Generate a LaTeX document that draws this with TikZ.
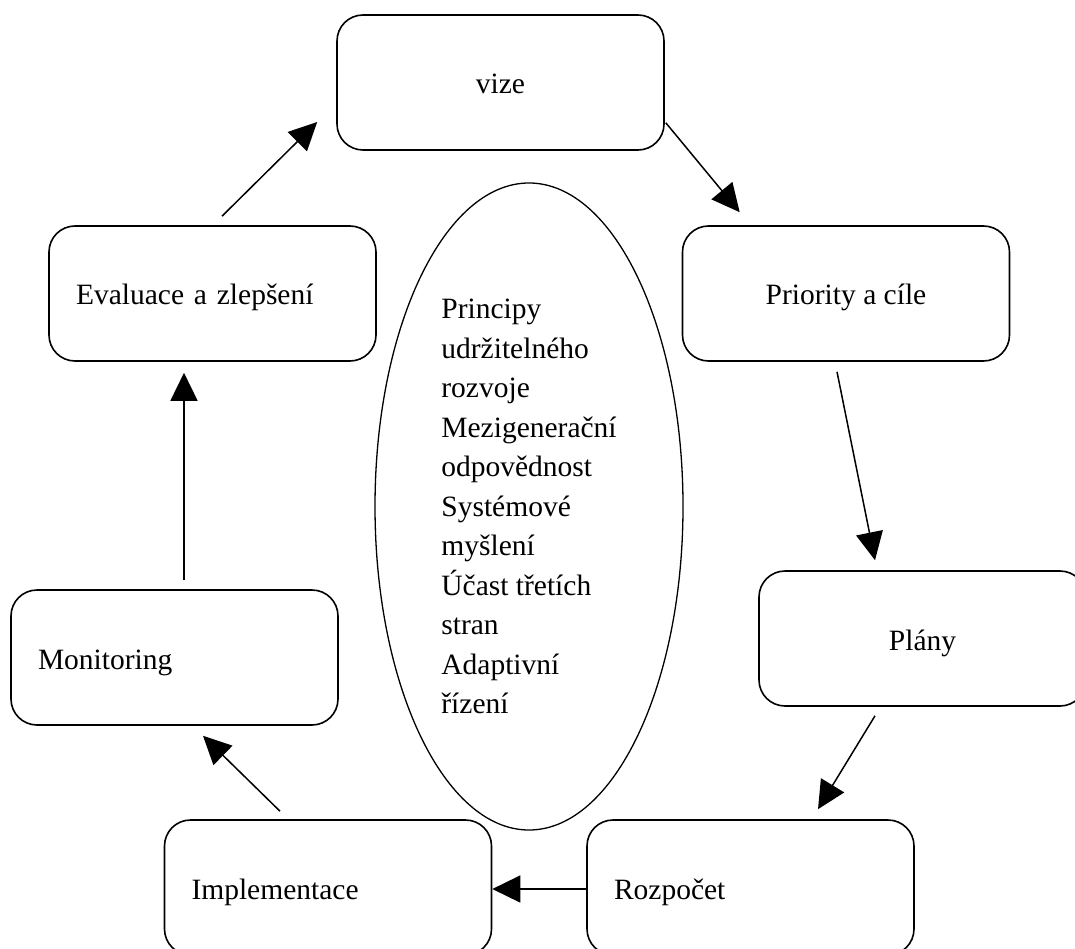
\documentclass[tikz,border=0pt]{standalone}
\usepackage{fontspec}
\setmainfont{Liberation Serif}
\usetikzlibrary{arrows.meta,shapes.geometric,calc}

\begin{document}
\begin{tikzpicture}[x=1pt,y=-1pt,
  stage/.style={draw, line width=1.6pt, rounded corners=26pt,
    minimum width=327pt, minimum height=135pt, inner sep=0pt,
    font=\fontsize{29.5}{35}\selectfont, text height=23pt, text depth=0pt},
  leftstage/.style={stage, text width=273pt, align=left},
  flow/.style={line width=1.5pt, -{Triangle[length=28pt,width=27pt]}},
  core/.style={draw, ellipse, line width=1.3pt, minimum width=308pt,
    minimum height=647pt, inner sep=0pt, align=left,
    font=\fontsize{29.5}{39.5}\selectfont}
]
% page frame
\useasboundingbox (0,0) rectangle (1075,949);
\fill[white] (0,0) rectangle (1075,949);
\clip (0,0) rectangle (1075,949);

% stages of the cycle
\node[stage]     (vize)  at (500.5,82.5)  {vize};
\node[stage]     (prio)  at (846,293.5)   {Priority a cíle};
\node[leftstage] (eval)  at (212.5,293.5) {Evaluace a zlepšení};
\node[stage]     (plany) at (922.5,638.5) {Plány};
\node[leftstage] (monit) at (174.5,657.5) {Monitoring};
\node[leftstage] (impl)  at (328,887.5)   {Implementace};
\node[leftstage] (rozp)  at (750.5,887.5) {Rozpočet};

% principles in the middle
\node[core] (core) at (529,506.5) {Principy\\udržitelného\\rozvoje\\Mezigenerační\\odpovědnost\\Systémové\\myšlení\\Účast třetích\\stran\\Adaptivní\\řízení};

% cycle arrows
\draw[flow] ($(vize.south east)+(1,-28)$) -- ($(prio.north west)+(58,-13)$);
\draw[flow] ($(prio.south)+(-9,10)$) -- ($(plany.north)+(-47.5,-10)$);
\draw[flow] ($(plany.south)+(-47.5,9)$) -- ($(rozp.north)+(67.5,-10)$);
\draw[flow] ($(rozp.west)+(0,1.5)$) -- ($(impl.east)+(0,1.5)$);
\draw[flow] ($(impl.north)+(-48,-8)$) -- ($(monit.south)+(28.5,10)$);
\draw[flow] ($(monit.north)+(9.5,-9)$) -- ($(eval.south)+(-28.5,11)$);
\draw[flow] ($(eval.north)+(9.5,-9)$) -- ($(vize.west)+(-19,39.5)$);
\end{tikzpicture}
\end{document}
